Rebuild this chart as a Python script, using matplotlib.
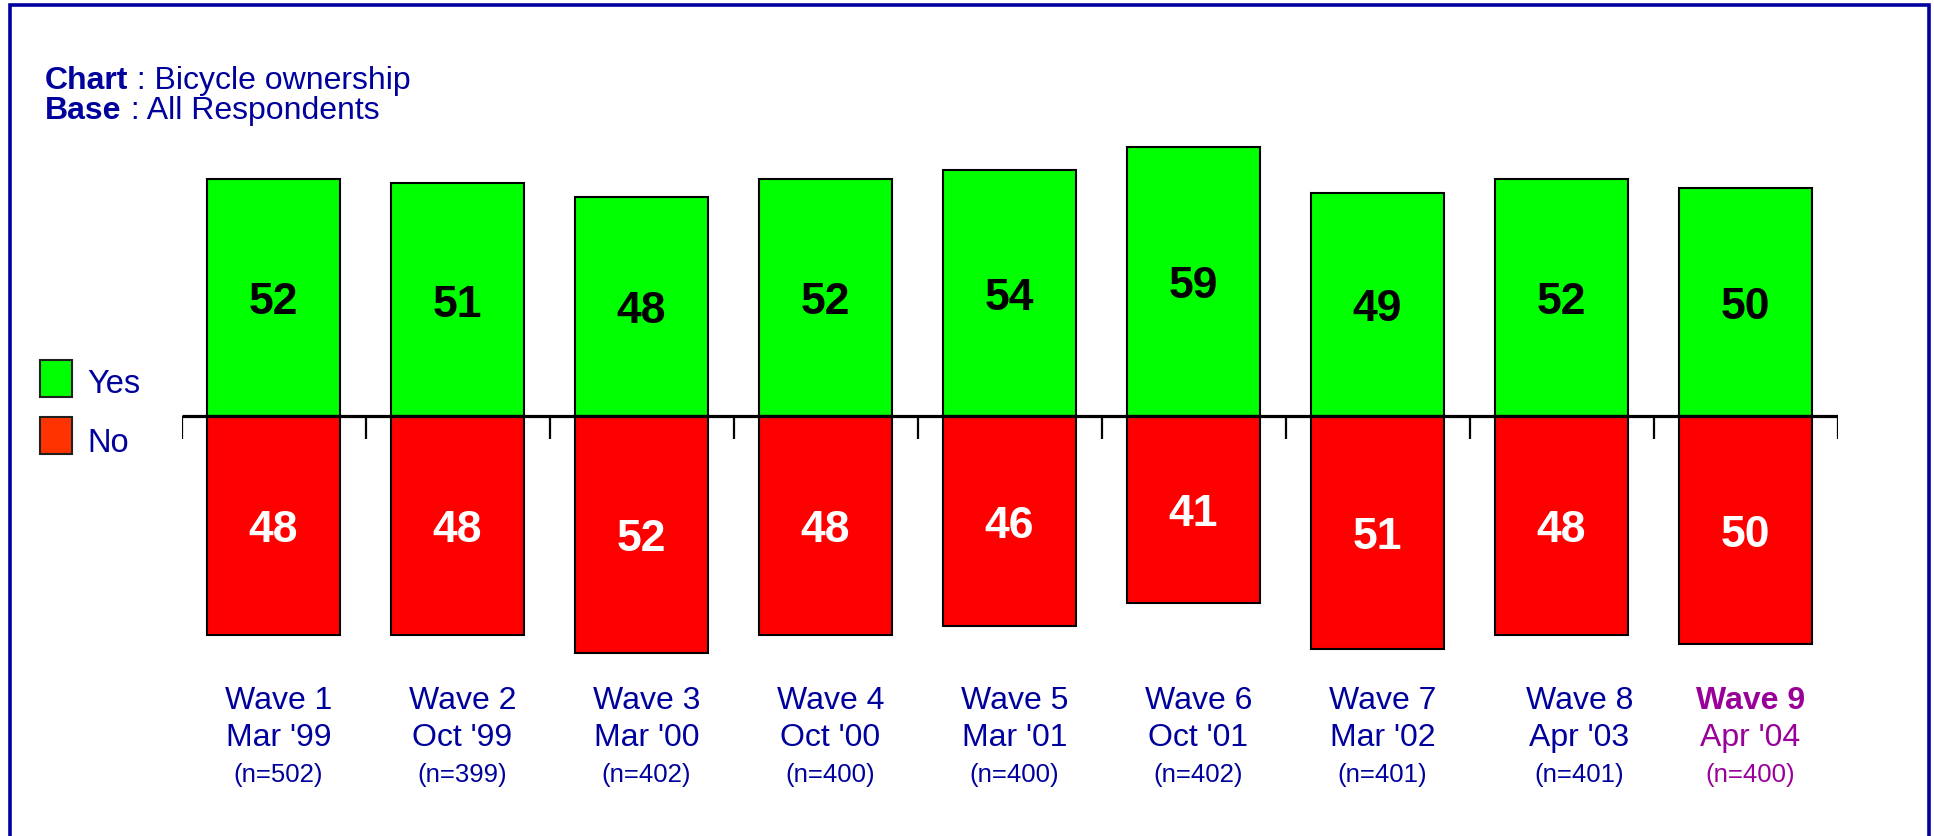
import matplotlib
matplotlib.use("Agg")
import matplotlib.pyplot as plt
import numpy as np
from matplotlib.patches import Rectangle

plt.rcParams['font.family'] = ['Liberation Sans', 'DejaVu Sans']

# ---- data ----
waves = ["Wave 1", "Wave 2", "Wave 3", "Wave 4", "Wave 5", "Wave 6", "Wave 7", "Wave 8", "Wave 9"]
dates = ["Mar '99", "Oct '99", "Mar '00", "Oct '00", "Mar '01", "Oct '01", "Mar '02", "Apr '03", "Apr '04"]
bases = ["(n=502)", "(n=399)", "(n=402)", "(n=400)", "(n=400)", "(n=402)", "(n=401)", "(n=401)", "(n=400)"]
yes_vals = [52, 51, 48, 52, 54, 59, 49, 52, 50]
no_vals = [48, 48, 52, 48, 46, 41, 51, 48, 50]
series_names = ["Yes", "No"]

# ---- style ----
W, H = 1934, 837
NAVY = '#00009C'
PURPLE = '#990099'
GREEN = '#00FF00'
RED = '#FF0000'
LEG_RED = '#FF3300'
BORDER = '#0000A0'
PX = 0.72  # points per pixel at dpi 100

fig = plt.figure(figsize=(W / 100, H / 100), dpi=100)
fig.patch.set_facecolor('white')

# axes geometry: baseline at y=417 px, 4.56 px per unit
ylo, yhi = -60, 65
scale = 4.56
base_px = 417
top_px = base_px - yhi * scale
bot_px = base_px - ylo * scale
ax = fig.add_axes([181.5 / W, (H - bot_px) / H, 1656 / W, (bot_px - top_px) / H])
ax.set_xlim(-0.5, len(waves) - 0.5)
ax.set_ylim(ylo, yhi)
ax.axis('off')

x = np.arange(len(waves))
bw = 0.723
ax.bar(x, yes_vals, width=bw, color=GREEN, edgecolor='black', linewidth=1.5, zorder=2)
ax.bar(x, [-v for v in no_vals], width=bw, color=RED, edgecolor='black', linewidth=1.5, zorder=2)

# baseline axis and ticks at category boundaries
ax.plot([-0.5, len(waves) - 0.5], [0, 0], color='black', lw=2.3, solid_capstyle='butt', zorder=4)
ax.vlines(np.arange(-0.5, len(waves)), -23 / scale, 0, color='black', lw=1.6, zorder=4)

# value labels
VFS = 32
half_digit = 0.716 * VFS / 2  # points
for i, v in enumerate(yes_vals):
    ax.annotate(str(v), xy=(i, v / 2), xytext=(0, -half_digit), textcoords='offset points',
                ha='center', va='baseline', fontsize=VFS, fontweight='bold', color='black', zorder=5)
for i, v in enumerate(no_vals):
    ax.annotate(str(v), xy=(i, -v / 2), xytext=(0, -half_digit), textcoords='offset points',
                ha='center', va='baseline', fontsize=VFS, fontweight='bold', color='white', zorder=5)

# category labels
dx_px = [5, 5, 5, 5, 5, 5, 5, 18, 5]
for i in range(len(waves)):
    last = (i == len(waves) - 1)
    col = PURPLE if last else NAVY
    for txt, yb, fs, fw in [(waves[i], 709, 23, 'bold' if last else 'normal'),
                            (dates[i], 746, 23, 'normal'),
                            (bases[i], 782, 18.5, 'normal')]:
        ax.annotate(txt, xy=(i, H - yb), xycoords=('data', 'figure pixels'),
                    xytext=(dx_px[i] * PX, 0), textcoords='offset points',
                    ha='center', va='baseline', fontsize=fs, fontweight=fw, color=col,
                    annotation_clip=False)

# title lines
for head, rest, yb in [("Chart", " : Bicycle ownership", 89), ("Base", " : All Respondents", 119)]:
    t1 = fig.text(45 / W, (H - yb) / H, head, fontsize=23, fontweight='bold', color=NAVY,
                  ha='left', va='baseline')
    ax.annotate(rest, xy=(1, H - yb), xycoords=(t1, 'figure pixels'), ha='left', va='baseline',
                fontsize=23, color=NAVY, annotation_clip=False)

# legend
for name, col, y0, y1, yb in [(series_names[0], GREEN, 361, 398, 393),
                              (series_names[1], LEG_RED, 418, 455, 452)]:
    fig.add_artist(Rectangle((40 / W, (H - y1) / H), 32 / W, (y1 - y0) / H, transform=fig.transFigure,
                             facecolor=col, edgecolor='#202020', lw=1.5))
    fig.text(87 / W, (H - yb) / H, name, fontsize=23.5, color=NAVY, ha='left', va='baseline')

# frame
fig.add_artist(Rectangle((10 / W, -0.05), (1929 - 10) / W, (H - 5.5) / H + 0.05,
                         transform=fig.transFigure, fill=False, edgecolor=BORDER, lw=2.6, clip_on=False))

fig.savefig('out.png', dpi=100)
